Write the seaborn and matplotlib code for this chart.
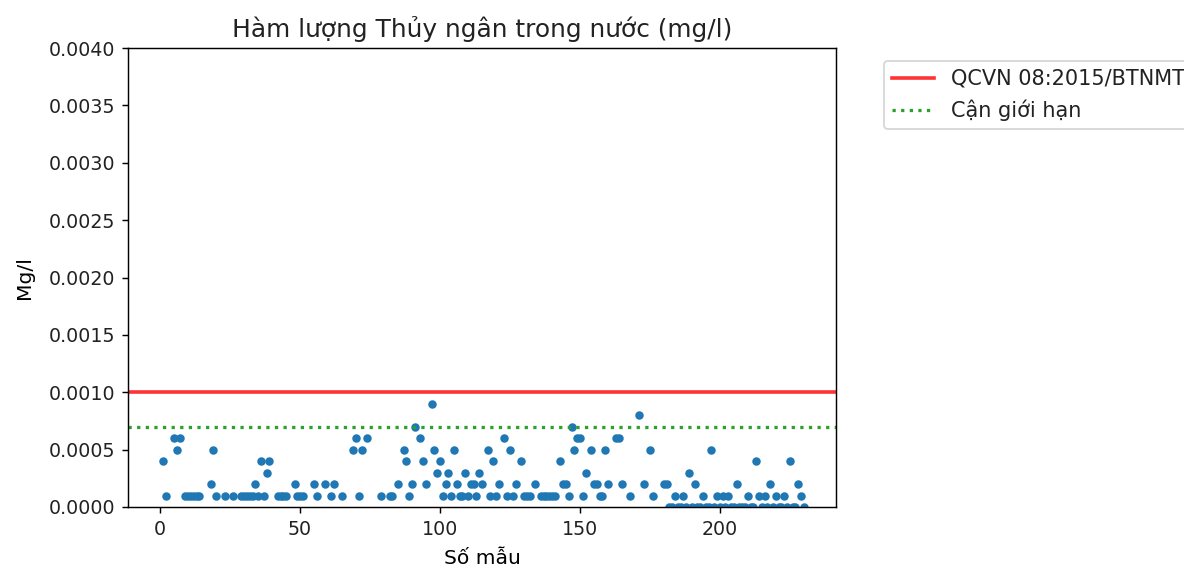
import matplotlib
matplotlib.use("Agg")
import matplotlib.pyplot as plt
import seaborn as sns
import pandas as pd
from matplotlib.ticker import FormatStrFormatter

# ---- data ----
sample_no = [1, 2, 5, 6, 7, 9, 10, 11, 12, 13, 14, 18, 19, 20, 23, 26,
             29, 30, 31, 32, 33, 34, 35, 36, 37, 38, 39, 42, 43, 44, 45,
             48, 49, 50, 51, 55, 56, 59, 61, 62, 65, 69, 70, 71, 72, 74,
             79, 82, 83, 85, 87, 88, 89, 90, 91, 93, 94, 95, 97, 98, 99,
             100, 101, 102, 103, 104, 105, 106, 107, 108, 109, 110, 111,
             112, 113, 114, 115, 117, 118, 119, 120, 121, 123, 124, 125,
             126, 127, 129, 130, 131, 132, 134, 136, 137, 138, 139, 140,
             141, 143, 144, 145, 146, 147, 148, 149, 150, 151, 152, 154,
             155, 156, 157, 158, 159, 160, 163, 164, 165, 168, 171, 173,
             175, 176, 180, 181, 182, 183, 184, 185, 186, 187, 188, 189,
             190, 191, 192, 193, 194, 195, 196, 197, 198, 199, 200, 201,
             202, 203, 204, 205, 206, 207, 208, 209, 210, 211, 212, 213,
             214, 215, 216, 217, 218, 219, 220, 221, 222, 223, 224, 225,
             226, 227, 228, 229, 230]

hg_value = [0.0004, 0.0001, 0.0006, 0.0005, 0.0006, 0.0001, 0.0001, 0.0001,
            0.0001, 0.0001, 0.0001, 0.0002, 0.0005, 0.0001, 0.0001, 0.0001,
            0.0001, 0.0001, 0.0001, 0.0001, 0.0001, 0.0002, 0.0001, 0.0004,
            0.0001, 0.0003, 0.0004, 0.0001, 0.0001, 0.0001, 0.0001,
            0.0002, 0.0001, 0.0001, 0.0001, 0.0002, 0.0001, 0.0002, 0.0001,
            0.0002, 0.0001, 0.0005, 0.0006, 0.0001, 0.0005, 0.0006,
            0.0001, 0.0001, 0.0001, 0.0002, 0.0005, 0.0004, 0.0001, 0.0002,
            0.0007, 0.0006, 0.0004, 0.0002, 0.0009, 0.0005, 0.0003,
            0.0004, 0.0001, 0.0002, 0.0003, 0.0001, 0.0005, 0.0002, 0.0001,
            0.0001, 0.0003, 0.0001, 0.0002,
            0.0002, 0.0001, 0.0003, 0.0002, 0.0005, 0.0001, 0.0004, 0.0001,
            0.0002, 0.0006, 0.0001, 0.0005,
            0.0001, 0.0002, 0.0004, 0.0001, 0.0001, 0.0001, 0.0002, 0.0001,
            0.0001, 0.0001, 0.0001, 0.0001,
            0.0001, 0.0004, 0.0002, 0.0002, 0.0001, 0.0007, 0.0005, 0.0006,
            0.0006, 0.0001, 0.0003, 0.0005,
            0.0002, 0.0002, 0.0001, 0.0001, 0.0005, 0.0002, 0.0006, 0.0006,
            0.0002, 0.0001, 0.0008, 0.0002,
            0.0005, 0.0001, 0.0002, 0.0002, 0.0, 0.0, 0.0001, 0.0, 0.0,
            0.0001, 0.0, 0.0003,
            0.0, 0.0002, 0.0, 0.0, 0.0001, 0.0, 0.0, 0.0005, 0.0, 0.0001,
            0.0, 0.0001,
            0.0, 0.0001, 0.0, 0.0, 0.0002, 0.0, 0.0, 0.0, 0.0001, 0.0, 0.0,
            0.0004,
            0.0001, 0.0, 0.0001, 0.0, 0.0002, 0.0, 0.0001, 0.0, 0.0, 0.0001,
            0.0, 0.0004,
            0.0, 0.0, 0.0002, 0.0001, 0.0]

limit_qcvn = 0.001
limit_near = 0.0007
yticks = [0.0, 0.0005, 0.001, 0.0015, 0.002, 0.0025, 0.003, 0.0035, 0.004]
xticks = [0, 50, 100, 150, 200]

title = "Hàm lượng Thủy ngân trong nước (mg/l)"
xlabel = "Số mẫu"
ylabel = "Mg/l"
legend_labels = ["QCVN 08:2015/BTNMT", "Cận giới hạn"]

df = pd.DataFrame({"sample": sample_no, "value": hg_value})

# ---- figure ----
plt.rcParams["font.family"] = ["DejaVu Sans"]
plt.rcParams["text.color"] = "#222222"
plt.rcParams["xtick.labelcolor"] = "#222222"
plt.rcParams["ytick.labelcolor"] = "#222222"
fig = plt.figure(figsize=(1184 / 130, 570 / 130), dpi=130)
ax = fig.add_axes([128 / 1184, 1 - 507 / 570, (836 - 128) / 1184, (507 - 48) / 570])

sns.scatterplot(data=df, x="sample", y="value", ax=ax, color="#1f77b4",
                s=22, linewidth=0, legend=False)
ax.axhline(limit_qcvn, color="red", alpha=0.8, lw=2, label=legend_labels[0])
ax.axhline(limit_near, color="#2ca02c", ls=":", lw=1.8, label=legend_labels[1])

ax.set_xlim(-11.5, 241.5)
ax.set_ylim(0, 0.004)
ax.set_yticks(yticks)
ax.set_xticks(xticks)
ax.yaxis.set_major_formatter(FormatStrFormatter("%.4f"))
ax.tick_params(labelsize=10.5)
ax.set_title(title, fontsize=13.8)
ax.set_xlabel(xlabel, fontsize=11.2, labelpad=6)
ax.set_ylabel(ylabel, fontsize=11.2, labelpad=8)
ax.legend(bbox_to_anchor=(1.05, 1), loc="upper left", fontsize=11.6,
          borderaxespad=0.6)

fig.savefig("out.png", dpi=130)
